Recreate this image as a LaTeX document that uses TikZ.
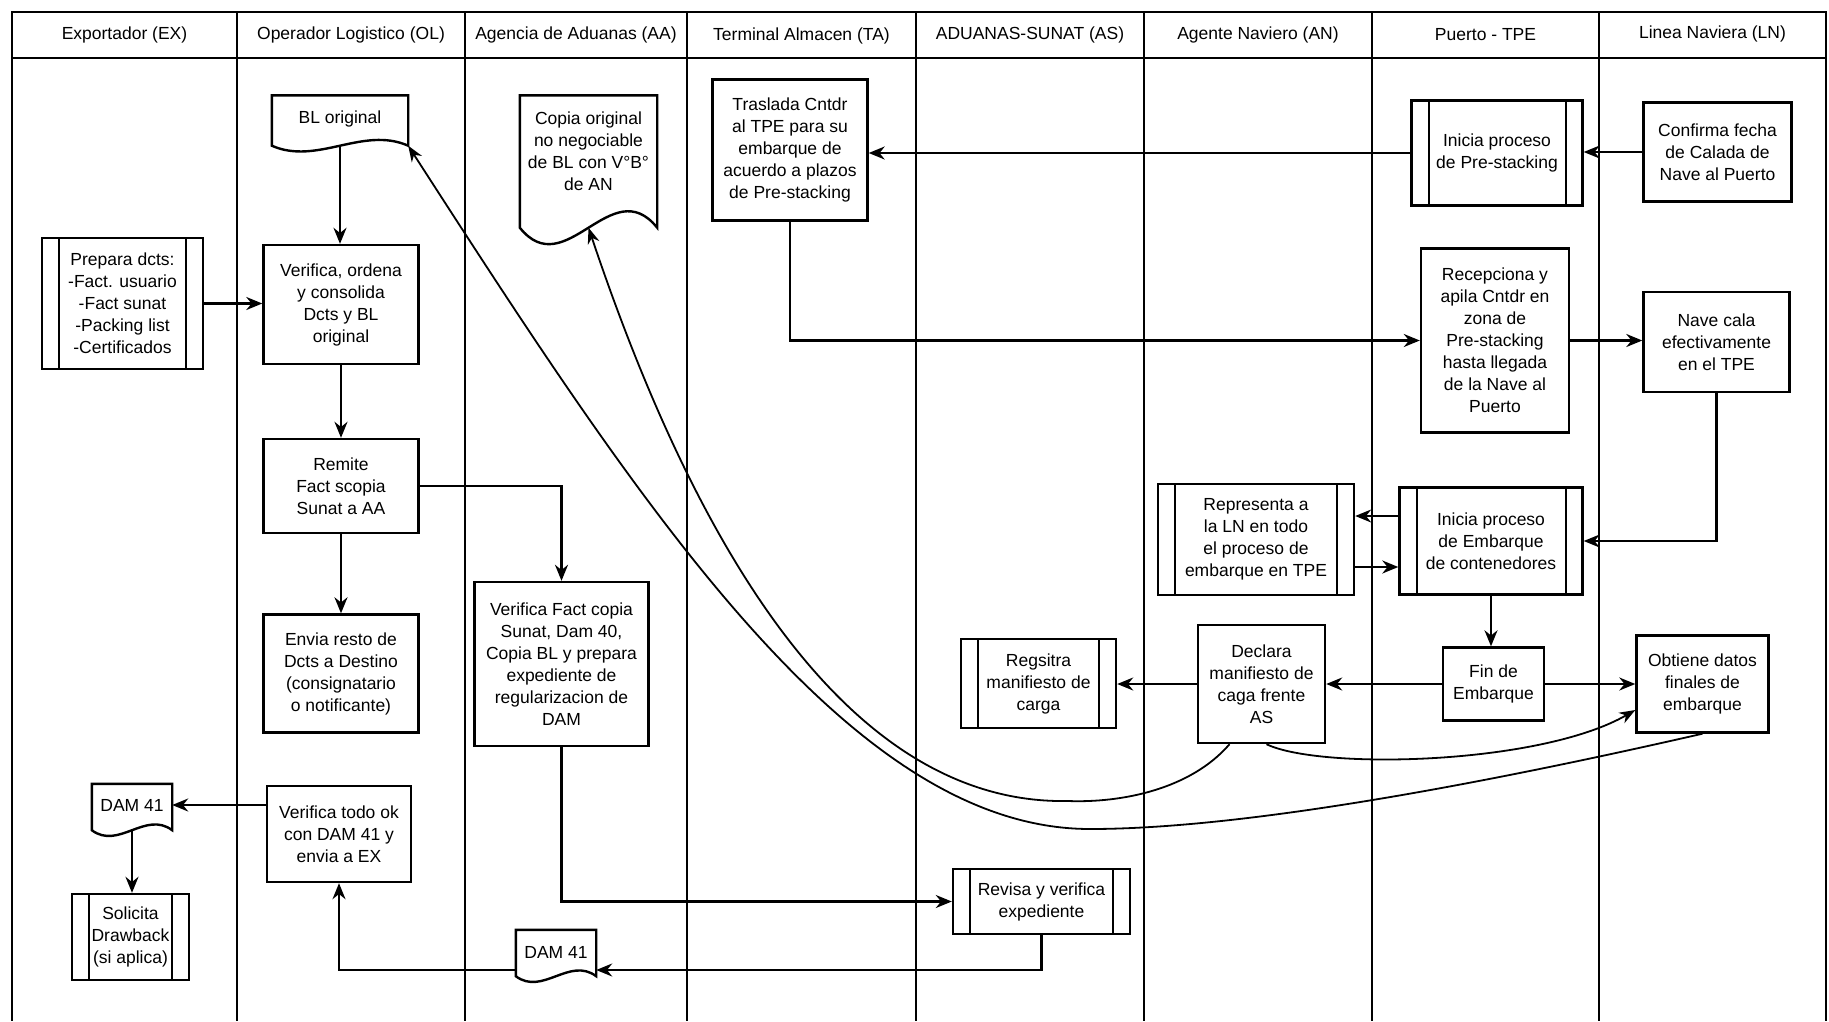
\documentclass[tikz,border=0pt]{standalone}
\usepackage{fontspec}
\setmainfont{Liberation Sans}
\usetikzlibrary{arrows.meta,calc}

\begin{document}
\begin{tikzpicture}[x=1pt,y=-1pt,font=\fontsize{17.5}{22}\selectfont]

\def\headtop{12}
\def\headbot{58}
\def\pagebot{1021}
\def\barsep{17pt}

\tikzstyle{lane}=[line width=1.5pt]
\tikzstyle{headcell}=[line width=2.3pt]
\tikzstyle{box}=[rectangle,draw,line width=2.4pt,align=center,inner sep=2pt]
\tikzstyle{subproc}=[box,path picture={
  \draw[line width=2pt] ([xshift=\barsep]path picture bounding box.north west) -- ([xshift=\barsep]path picture bounding box.south west);
  \draw[line width=2pt] ([xshift=-\barsep]path picture bounding box.north east) -- ([xshift=-\barsep]path picture bounding box.south east);}]
\tikzstyle{doc}=[rectangle,align=center,inner sep=2pt]
\tikzstyle{link}=[-{Stealth[length=16pt,width=13pt]},line width=2.2pt]
\tikzstyle{longlink}=[-{Stealth[length=16pt,width=12pt]},line width=1.8pt]

% document outline: node, drop of the corners, wave height
\def\docshape#1#2#3{
  \draw[line width=2.4pt] (#1.north west) -- (#1.north east) -- ([yshift=-#2]#1.south east)
    .. controls ($([yshift=-#2]#1.south east)!0.333!([yshift=-#2]#1.south west)+(0,#3)$)
    and ($([yshift=-#2]#1.south east)!0.667!([yshift=-#2]#1.south west)+(0,-#3)$)
    .. ([yshift=-#2]#1.south west) -- cycle;
}

\useasboundingbox (0,0) rectangle (1829,1021);

%lanes
\draw[headcell] (12,\headtop) rectangle (1826,\headbot);
\foreach \x in {237,465,687,916,1144,1372,1599}
  \draw[headcell] (\x,\headtop) -- (\x,\headbot);
\foreach \x in {12,237,465,687,916,1144,1372,1599,1826}
  \draw[lane] (\x,\headbot) -- (\x,\pagebot);

\node (hex) at (124.5,35) {Exportador (EX)};
\node (hol) at (351,35) {Operador Logistico (OL)};
\node (haa) at (576,35) {Agencia de Aduanas (AA)};
\node (hta) at (801.5,36) {Terminal Almacen (TA)};
\node (has) at (1030,35) {ADUANAS-SUNAT (AS)};
\node (han) at (1258,35) {Agente Naviero (AN)};
\node (htpe) at (1485.5,35) {Puerto - TPE};
\node (hln) at (1712.5,34) {Linea Naviera (LN)};

%exportador
\node[subproc,minimum width=161pt,minimum height=131pt] (prep) at (122.5,303.5) {Prepara dcts:\\-Fact. usuario\\-Fact sunat\\-Packing list\\-Certificados};
\node[doc,minimum width=80pt,minimum height=42pt] (damex) at (132,805) {DAM 41};
\node[subproc,minimum width=117pt,minimum height=86pt] (drawback) at (130.5,937) {Solicita\\Drawback\\(si aplica)};

%operador logistico
\node[doc,minimum width=136pt,minimum height=47pt] (blorig) at (340,119) {BL original};
\node[box,minimum width=155pt,minimum height=119pt] (verifica) at (341,304.5) {Verifica, ordena\\y consolida\\Dcts y BL\\original};
\node[box,minimum width=155pt,minimum height=94pt] (remite) at (341,486) {Remite\\Fact scopia\\Sunat a AA};
\node[box,minimum width=155pt,minimum height=118pt] (envia) at (341,673.5) {Envia resto de\\Dcts a Destino\\(consignatario\\o notificante)};
\node[box,minimum width=144pt,minimum height=96pt] (todook) at (339,834) {Verifica todo ok\\con DAM 41 y\\envia a EX};

%agencia de aduanas
\node[doc,minimum width=137pt,minimum height=112pt] (copiabl) at (588.5,151.5) {Copia original\\no negociable\\de BL con V°B°\\de AN};
\node[box,minimum width=174pt,minimum height=164pt] (verfact) at (561.5,664) {Verifica Fact copia\\Sunat, Dam 40,\\Copia BL y prepara\\expediente de\\regularizacion de\\DAM};
\node[doc,minimum width=80pt,minimum height=44pt] (damaa) at (556,952) {DAM 41};

%terminal almacen
\node[box,minimum width=155pt,minimum height=141pt] (traslada) at (790,150) {Traslada Cntdr\\al TPE para su\\embarque de\\acuerdo a plazos\\de Pre-stacking};

%aduanas-sunat
\node[subproc,minimum width=155pt,minimum height=89pt] (registra) at (1038.5,683.5) {Regsitra\\manifiesto de\\carga};
\node[subproc,minimum width=177pt,minimum height=65pt] (revisa) at (1041.5,901.5) {Revisa y verifica\\expediente};

%agente naviero
\node[subproc,minimum width=196pt,minimum height=111pt] (representa) at (1256,539.5) {Representa a\\la LN en todo\\el proceso de\\embarque en TPE};
\node[box,minimum width=127pt,minimum height=118pt] (declara) at (1261.5,684) {Declara\\manifiesto de\\caga frente\\AS};

%puerto - tpe
\node[subproc,minimum width=171pt,minimum height=105pt] (iniprestack) at (1497,153) {Inicia proceso\\de Pre-stacking};
\node[box,minimum width=148pt,minimum height=184pt] (recepciona) at (1495,340.5) {Recepciona y\\apila Cntdr en\\zona de\\Pre-stacking\\hasta llegada\\de la Nave al\\Puerto};
\node[subproc,minimum width=183pt,minimum height=107pt] (iniembarque) at (1491,541) {Inicia proceso\\de Embarque\\de contenedores};
\node[box,minimum width=101pt,minimum height=73pt] (finemb) at (1493.5,684) {Fin de\\Embarque};

%linea naviera
\node[box,minimum width=148pt,minimum height=99pt] (confirma) at (1717.5,152) {Confirma fecha\\de Calada de\\Nave al Puerto};
\node[box,minimum width=146pt,minimum height=100pt] (navecala) at (1716.5,342) {Nave cala\\efectivamente\\en el TPE};
\node[box,minimum width=132pt,minimum height=97pt] (obtiene) at (1702.5,684) {Obtiene datos\\finales de\\embarque};

%documents
\docshape{blorig}{3pt}{20pt}
\docshape{copiabl}{20pt}{57pt}
\docshape{damex}{4pt}{20pt}
\docshape{damaa}{2pt}{20pt}

%connections
\draw[link] (prep.east) -- (prep.east -| verifica.west);
\draw[link] ([yshift=-3pt]blorig.south) -- (blorig.south |- verifica.north);
\draw[link] (verifica) -- (remite);
\draw[link] (remite) -- (envia);
\draw[link] (remite.east) -| (verfact.north);
\draw[link] (verfact.south) |- (revisa.west);
\draw[link] (revisa.south) |- ([yshift=-18pt]damaa.east);
\draw[link] ([yshift=-18pt]damaa.west) -| (todook.south);
\draw[link] (todook.west |- damex.east) -- (damex.east);
\draw[link] ([yshift=-4pt]damex.south) -- (damex.south |- drawback.north);

\draw[link] (confirma.west) -- (confirma.west -| iniprestack.east);
\draw[link] (iniprestack.west) -- (iniprestack.west -| traslada.east);
\draw[link] (traslada.south) |- (recepciona.west);
\draw[link] (recepciona.east) -- (recepciona.east -| navecala.west);
\draw[link] (navecala.south) |- (iniembarque.east);
\draw[link] ([yshift=25pt]iniembarque.west) -- ([yshift=25pt]iniembarque.west -| representa.east);
\draw[link] ([yshift=-26pt]iniembarque.west -| representa.east) -- ([yshift=-26pt]iniembarque.west);
\draw[link] (iniembarque.south) -- (iniembarque.south |- finemb.north);
\draw[link] (finemb.west) -- (finemb.west -| declara.east);
\draw[link] (finemb.east) -- (finemb.east -| obtiene.west);
\draw[link] (declara.west) -- (declara.west -| registra.east);

%long curves
\draw[longlink] ([xshift=-32pt]declara.south) .. controls (1190,790) and (1120,803) .. (1068,801)
  .. controls (860,805) and (705,575) .. ([yshift=-20pt]copiabl.south);
\draw[longlink] ([xshift=5pt]declara.south) .. controls (1320,770) and (1540,765) .. ([yshift=-26pt]obtiene.west);
\draw[longlink] (obtiene.south) .. controls (1500,780) and (1250,829) .. (1090,829)
  .. controls (850,829) and (640,505) .. ([yshift=-3pt]blorig.south east);

\end{tikzpicture}
\end{document}
